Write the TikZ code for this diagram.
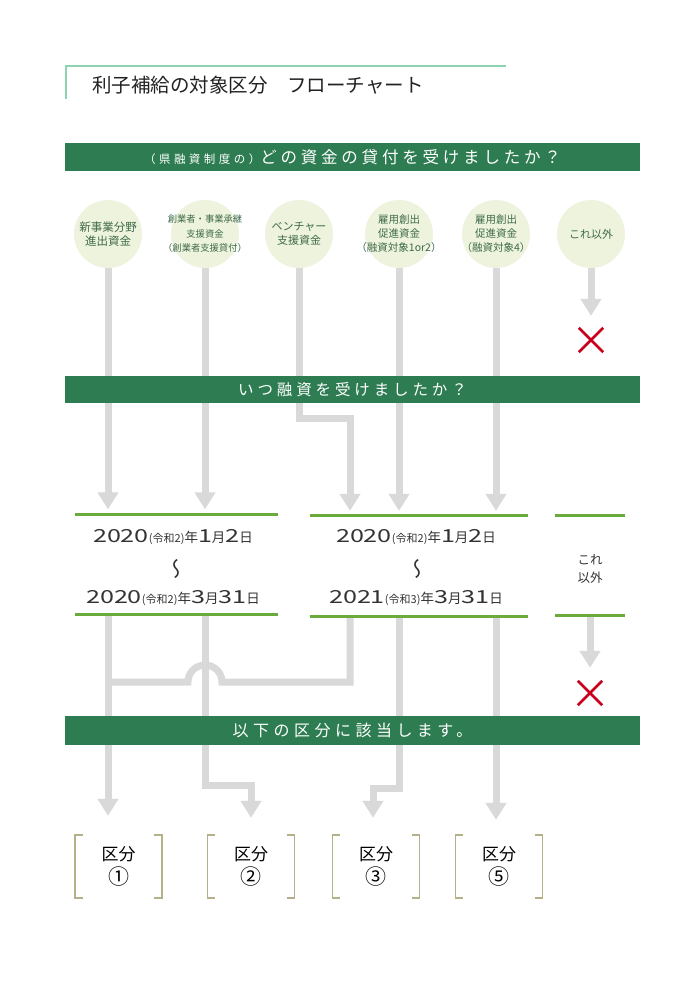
\documentclass[tikz,border=0pt]{standalone}
\usepackage{fontspec}
\usepackage{graphicx}
\setmainfont{Noto Sans CJK JP}
\usetikzlibrary{arrows.meta}
\definecolor{bannergreen}{HTML}{2E7D52}
\definecolor{titleline}{HTML}{8ED3B0}
\definecolor{titletext}{HTML}{222222}
\definecolor{circfill}{HTML}{EEF3DD}
\definecolor{circtext}{HTML}{3E6B4A}
\definecolor{flowgray}{HTML}{D9D9D9}
\definecolor{dategreen}{HTML}{6AAB3C}
\definecolor{crossred}{HTML}{C8001E}
\definecolor{bracketcol}{HTML}{B4B188}
\definecolor{datetext}{HTML}{333333}
\tikzset{
  flow/.style={draw=flowgray, line width=7pt, -{Triangle[width=20pt,length=17pt]}},
  flowline/.style={draw=flowgray, line width=7pt},
  banner/.style={fill=bannergreen, text=white, minimum width=575pt, minimum height=28pt, inner sep=0pt},
  fund/.style={circle, fill=circfill, minimum size=68pt, inner sep=0pt},
  fundtext/.style={inner sep=0pt, align=center, text=circtext},
  dateline/.style={draw=dategreen, line width=3pt},
  periodbox/.style={minimum width=#1, minimum height=100pt, inner sep=0pt},
  xline/.style={draw=crossred, line width=2.5pt},
  xmark/.style={minimum size=24pt, inner sep=0pt},
  kubun/.style={minimum width=87pt, minimum height=63pt, inner sep=0pt, align=center, text=black, font=\fontsize{17}{24}\selectfont},
  brk/.style={draw=bracketcol, line width=1.5pt},
  datetxt/.style={text=datetext, inner sep=0pt, align=center},
}
\newcommand\dg[1]{\scalebox{1.4}[1]{\fontsize{18}{18}\selectfont #1}}
\newcommand\kj[1]{{\fontsize{13.5}{14}\selectfont #1}}
\newcommand\wa[1]{{\fontsize{11}{12}\selectfont #1}}
\newcommand\wavechar{\scalebox{-1}[1]{\rotatebox{90}{\fontsize{21}{21}\selectfont ～}}}
\begin{document}
\begin{tikzpicture}[x=1pt,y=-1pt]
\useasboundingbox (0,0) rectangle (700,990);
\fill[white] (0,0) rectangle (700,990);
% title
\draw[draw=titleline, line width=2pt] (66,99) -- (66,66) -- (506,66);
\node[anchor=west, inner sep=0pt, text=titletext, font=\fontsize{19.5}{22}\selectfont] (title) at (92,85) {利子補給の対象区分　フローチャート};
% fund circles
\node[fund] (c1) at (108,234) {};
\node[fund] (c2) at (205,234) {};
\node[fund] (c3) at (299,234) {};
\node[fund] (c4) at (399,234) {};
\node[fund] (c5) at (496,234) {};
\node[fund] (c6) at (591,234) {};
\node[fundtext, font=\fontsize{11.5}{14}\selectfont] (c1t) at (c1) {新事業分野\\進出資金};
\node[fundtext, font=\fontsize{9.3}{14.5}\selectfont] (c2t) at (c2) {創業者・事業承継\\支援資金\\（創業者支援貸付）};
\node[fundtext, font=\fontsize{11}{14}\selectfont] (c3t) at (c3) {ベンチャー\\支援資金};
\node[fundtext, font=\fontsize{10.5}{14}\selectfont] (c4t) at (c4) {雇用創出\\促進資金\\（融資対象1or2）};
\node[fundtext, font=\fontsize{10.5}{14}\selectfont] (c5t) at (c5) {雇用創出\\促進資金\\（融資対象4）};
\node[fundtext, font=\fontsize{11}{14}\selectfont] (c6t) at (c6) {これ以外};
% period groups
\node[periodbox=203pt] (g1) at (176.5,564.5) {};
\node[periodbox=218pt] (g2) at (419,566) {};
\node[periodbox=70pt] (g3) at (590,565.5) {};
% kubun boxes
\node[kubun] (k1) at (118.5,866.5) {区分\\{\fontsize{21}{24}\selectfont ①}};
\node[kubun] (k2) at (251,866.5) {区分\\{\fontsize{21}{24}\selectfont ②}};
\node[kubun] (k3) at (376,866.5) {区分\\{\fontsize{21}{24}\selectfont ③}};
\node[kubun] (k4) at (499,866.5) {区分\\{\fontsize{21}{24}\selectfont ⑤}};
% crosses
\node[xmark] (x1) at (591,340) {};
\node[xmark] (x2) at (590,693) {};
% routing coordinates
\coordinate (j3) at (350,418);
\coordinate (m2) at (251,785);
\coordinate (m4) at (373,788);
\coordinate (h) at (222,682);
% flows upper
\draw[flow, shorten >=5pt] (c1.south) -- (c1.south |- g1.north);
\draw[flow, shorten >=5pt] (c2.south) -- (c2.south |- g1.north);
\draw[flow, shorten >=5pt] (c3.south) |- (j3) -- (j3 |- g2.north);
\draw[flow, shorten >=5pt] (c4.south) -- (c4.south |- g2.north);
\draw[flow, shorten >=5pt] (c5.south) -- (c5.south |- g2.north);
\draw[flow, shorten >=12pt] (c6.south) -- (x1.north);
% flows lower
\draw[flowline] (j3 |- g2.south) |- (h) arc[start angle=0,end angle=-180,radius=17] -- (c1 |- h);
\draw[flow, shorten >=19pt] (c1 |- g1.south) -- (c1 |- k1.north);
\draw[flow, shorten >=17pt] (c2 |- g1.south) |- (m2) -- (m2 |- k2.north);
\draw[flow, shorten >=17pt] (c4 |- g2.south) |- (m4) -- (m4 |- k3.north);
\draw[flow, shorten >=15pt] (c5 |- g2.south) -- (c5 |- k4.north);
\draw[flow, shorten >=13pt] (g3.south) -- (x2.north);
% banners
\node[banner] (b1) at (352.5,157) {{\fontsize{11.5}{14}\selectfont\addfontfeatures{LetterSpace=30}（県融資制度の）}{\fontsize{16.5}{18}\selectfont\addfontfeatures{LetterSpace=23}どの資金の貸付を受けましたか？}};
\node[banner, minimum height=27pt] (b2) at (352.5,389.5) {\fontsize{15.5}{18}\selectfont\addfontfeatures{LetterSpace=25}いつ融資を受けましたか？};
\node[banner, minimum height=29pt] (b3) at (352.5,730.5) {\fontsize{16}{18}\selectfont\addfontfeatures{LetterSpace=28}以下の区分に該当します。};
% period lines
\foreach \g in {g1,g2,g3}{
  \draw[dateline] (\g.north west) -- (\g.north east);
  \draw[dateline] (\g.south west) -- (\g.south east);
}
% brackets
\foreach \k in {k1,k2,k3,k4}{
  \draw[brk] ([xshift=8pt]\k.north west) -- (\k.north west) -- (\k.south west) -- ([xshift=8pt]\k.south west);
  \draw[brk] ([xshift=-8pt]\k.north east) -- (\k.north east) -- (\k.south east) -- ([xshift=-8pt]\k.south east);
}
% crosses
\foreach \x in {x1,x2}{
  \draw[xline] (\x.north west) -- (\x.south east) (\x.north east) -- (\x.south west);
}
% date texts
\node[datetxt] (d1a) at (173,537) {\dg{2020}\wa{(令和2)}\kj{年}\dg{1}\kj{月}\dg{2}\kj{日}};
\node[datetxt] (d1w) at (174,569) {\wavechar};
\node[datetxt] (d1b) at (173,598) {\dg{2020}\wa{(令和2)}\kj{年}\dg{3}\kj{月}\dg{31}\kj{日}};
\node[datetxt] (d2a) at (416,537) {\dg{2020}\wa{(令和2)}\kj{年}\dg{1}\kj{月}\dg{2}\kj{日}};
\node[datetxt] (d2w) at (415,569) {\wavechar};
\node[datetxt] (d2b) at (416,598) {\dg{2021}\wa{(令和3)}\kj{年}\dg{3}\kj{月}\dg{31}\kj{日}};
\node[datetxt, font=\fontsize{12.5}{18}\selectfont] (d3) at (590,569) {これ\\以外};
\end{tikzpicture}
\end{document}
